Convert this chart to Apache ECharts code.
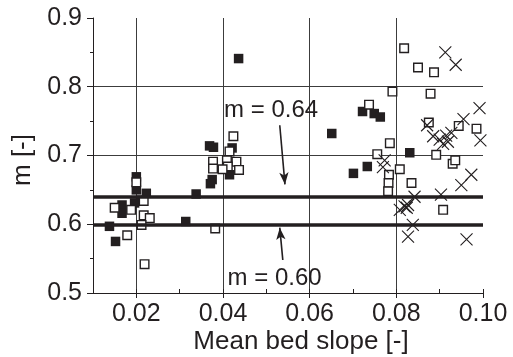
<!DOCTYPE html>
<html>
<head>
<meta charset="utf-8">
<script src="https://cdn.jsdelivr.net/npm/echarts@6/dist/echarts.min.js"></script>
<style>
  html, body { margin: 0; padding: 0; background: #fff; }
  #chart { width: 513px; height: 357px; }
</style>
</head>
<body>
<div id="chart"></div>
<script>
// Mean bed slope [-] vs exponent m [-], three groups of measurements
const filledSlope = [0.0138, 0.0152, 0.0167, 0.0167, 0.0196, 0.0200, 0.0200, 0.0210, 0.0223,
  0.0314, 0.0338, 0.0369, 0.0378, 0.0375, 0.0371, 0.0415, 0.0421, 0.0436,
  0.0651, 0.0701, 0.0722, 0.0733, 0.0749, 0.0763, 0.0831];
const filledM = [0.597, 0.575, 0.628, 0.616, 0.631, 0.669, 0.650, 0.635, 0.645,
  0.604, 0.644, 0.714, 0.712, 0.665, 0.659, 0.672, 0.711, 0.841,
  0.732, 0.674, 0.764, 0.684, 0.761, 0.756, 0.704];

const openSlope = [0.0150, 0.0179, 0.0188, 0.0200, 0.0217, 0.0217, 0.0231, 0.0212, 0.0219,
  0.0382, 0.0424, 0.0415, 0.0377, 0.0377, 0.0409, 0.0431, 0.0411, 0.0437, 0.0399,
  0.0737, 0.0791, 0.0785, 0.0756, 0.0783, 0.0808, 0.0782, 0.0781,
  0.0818, 0.0850, 0.0887, 0.0879, 0.0875, 0.0944, 0.0985, 0.0892, 0.0930, 0.0936, 0.0835, 0.0908];
const openM = [0.624, 0.584, 0.621, 0.661, 0.634, 0.613, 0.609, 0.599, 0.542,
  0.594, 0.728, 0.706, 0.691, 0.681, 0.693, 0.691, 0.684, 0.679, 0.680,
  0.774, 0.793, 0.718, 0.702, 0.672, 0.680, 0.660, 0.648,
  0.856, 0.828, 0.821, 0.790, 0.748, 0.743, 0.739, 0.701, 0.688, 0.693, 0.660, 0.621];

const crossSlope = [0.0913, 0.0937, 0.0992, 0.0955, 0.0871, 0.0994, 0.0885, 0.0900, 0.0915,
  0.0927, 0.0908, 0.0919, 0.0773, 0.0769, 0.0973, 0.0950, 0.0842, 0.0903,
  0.0819, 0.0808, 0.0824, 0.0827, 0.0838, 0.0827, 0.0962];
const crossM = [0.850, 0.832, 0.769, 0.753, 0.744, 0.722, 0.728, 0.723, 0.729,
  0.733, 0.717, 0.720, 0.693, 0.683, 0.672, 0.657, 0.640, 0.643,
  0.626, 0.621, 0.624, 0.628, 0.599, 0.582, 0.578];

// Horizontal reference levels of m
const refLevels = [0.64, 0.60];
const refLabels = ['m = 0.64', 'm = 0.60'];

// Axis ranges and tick labels
const xMin = 0.01, xMax = 0.10, xStep = 0.01;
const yMin = 0.5, yMax = 0.9, yStep = 0.1;
const xTickLabels = ['0.02', '0.04', '0.06', '0.08', '0.10'];

const zip = (a, b) => a.map((v, i) => [v, b[i]]);
const ink = '#231f20';
const gridInk = '#3c3c3c';
const font = '"Liberation Sans", Arial, Helvetica, sans-serif';

// Annotation arrows (data coordinates): from label towards the line
const arrowFrom = [[0.0531, 0.744], [0.0538, 0.548]];
const arrowTo = [[0.0543, 0.658], [0.0531, 0.595]];
const labelAt = [[0.0511, 0.765], [0.0519, 0.522]];

const chart = echarts.init(document.getElementById('chart'), null, { renderer: 'canvas' });

chart.setOption({
  animation: false,
  backgroundColor: '#fff',
  grid: { left: 93, right: 30, top: 18, bottom: 64, containLabel: false },
  xAxis: [{
    type: 'value', min: xMin, max: xMax, interval: xStep,
    axisLine: { show: true, lineStyle: { color: ink, width: 1 } },
    axisTick: { show: true, inside: true, length: 4, lineStyle: { color: ink, width: 1 } },
    axisLabel: {
      margin: 9, color: ink, fontSize: 25, fontFamily: font,
      formatter: v => {
        const s = Number(v).toFixed(2);
        return xTickLabels.indexOf(s) >= 0 ? s : '';
      }
    },
    splitLine: {
      show: true, showMinLine: false, showMaxLine: false,
      lineStyle: { color: [gridInk, 'rgba(0,0,0,0)'], width: 1 }
    }
  }, {
    type: 'value', min: xMin, max: xMax, position: 'bottom',
    axisLine: { show: false },
    axisTick: { show: true, inside: false, length: 5, customValues: xTickLabels.map(Number),
      lineStyle: { color: ink, width: 1 } },
    axisLabel: { show: false },
    splitLine: { show: false }
  }],
  yAxis: {
    type: 'value', min: yMin, max: yMax, interval: yStep,
    axisLine: { show: true, lineStyle: { color: ink, width: 1 } },
    axisTick: { show: true, length: 6, lineStyle: { color: ink, width: 1 } },
    minorTick: { show: true, splitNumber: 2, length: 3, lineStyle: { color: ink, width: 1 } },
    axisLabel: {
      margin: 11, color: ink, fontSize: 25, fontFamily: font,
      formatter: v => Number(v).toFixed(1)
    },
    splitLine: {
      show: true, showMinLine: false, showMaxLine: false,
      lineStyle: { color: gridInk, width: 1 }
    }
  },
  graphic: [
    {
      type: 'text', x: 301, y: 342,
      style: { text: 'Mean bed slope [-]', fill: ink, font: '26px ' + font, align: 'center', verticalAlign: 'middle' }
    },
    {
      type: 'text', x: 23, y: 160, rotation: Math.PI / 2,
      style: { text: 'm [-]', fill: ink, font: '26px ' + font, align: 'center', verticalAlign: 'middle' }
    }
  ],
  series: [
    {
      name: 'levels', type: 'line', data: [], silent: true,
      markLine: {
        silent: true, symbol: ['none', 'none'],
        label: { show: false },
        lineStyle: { color: ink, width: 3.5, type: 'solid' },
        data: refLevels.map(v => ({ yAxis: v }))
      }
    },
    {
      name: 'filled', type: 'scatter', data: zip(filledSlope, filledM),
      symbol: 'rect', symbolSize: 9.5, z: 3,
      itemStyle: { color: ink, opacity: 1 }
    },
    {
      name: 'open', type: 'scatter', data: zip(openSlope, openM),
      symbol: 'rect', symbolSize: 8.6, z: 4,
      itemStyle: { color: '#fff', borderColor: ink, borderWidth: 1.4, opacity: 1 }
    },
    {
      name: 'cross', type: 'scatter', data: zip(crossSlope, crossM),
      symbol: 'path://M0,0L10,10M10,0L0,10', symbolSize: 12, z: 5,
      itemStyle: { color: 'none', borderColor: ink, borderWidth: 1.1, opacity: 1 }
    },
    {
      name: 'notes', type: 'line', data: [], silent: true,
      markLine: {
        silent: true, symbol: ['none', 'arrow'], symbolSize: [7, 12],
        label: { show: false },
        lineStyle: { color: ink, width: 1.6, type: 'solid' },
        data: arrowFrom.map((p, i) => [{ coord: p }, { coord: arrowTo[i] }])
      },
      markPoint: {
        silent: true, symbol: 'circle', symbolSize: 0,
        label: {
          show: true, position: 'inside', color: ink, fontSize: 24, fontFamily: font,
          formatter: p => p.name
        },
        data: labelAt.map((p, i) => ({ name: refLabels[i], coord: p }))
      }
    }
  ]
});
</script>
</body>
</html>
